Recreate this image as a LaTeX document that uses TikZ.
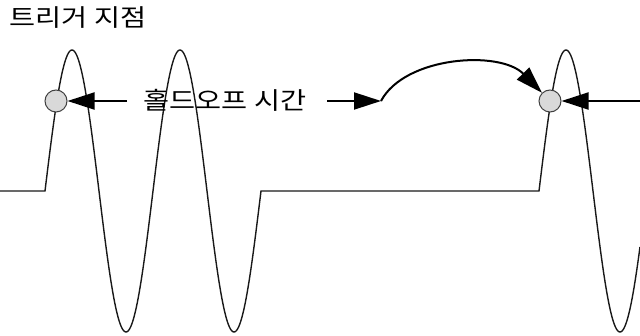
\documentclass[tikz,border=0pt]{standalone}
\usepackage{fontspec}
\newfontfamily\kr[FakeStretch=1.18]{Noto Sans CJK KR}
\usetikzlibrary{arrows.meta}
\begin{document}
\begin{tikzpicture}[x=1pt,y=-1pt,
  wave/.style={line width=1.4pt,black!90},
  trig/.style={circle,draw=black!75,line width=1pt,fill=black!15,minimum size=22pt,inner sep=0pt},
  harrow/.style={line width=2pt,-{Triangle[length=27pt,width=17pt]}},
  lbl/.style={font=\kr\fontsize{24}{28}\selectfont,inner sep=0pt}]
\useasboundingbox (0,0) rectangle (640,336);
% waveform
\draw[wave] (0,191) -- (45,191)
  -- plot[domain=45:261,samples=240] (\x,{191-141*sin((\x-45)*3.33333)})
  -- (539,191)
  -- plot[domain=539:640,samples=120] (\x,{191-141*sin((\x-539)*3.33333)});
% trigger points
\node[trig] (t1) at (56,101) {};
\node[trig] (t2) at (550,101) {};
% labels
\node[lbl] (title) at (78,18) {트리거 지점};
\node[lbl] (hold) at (225,100) {홀드오프 시간};
% arrows
\coordinate (a1) at (127,101);
\coordinate (a2) at (327,101);
\coordinate (a3) at (381,101);
\coordinate (a4) at (640,101);
\draw[harrow] (a1) -- (t1);
\draw[harrow] (a2) -- (a3);
\draw[harrow] (a3) .. controls (405,56) and (500,50) .. (t2);
\draw[harrow] (a4) -- (t2);
\end{tikzpicture}
\end{document}
